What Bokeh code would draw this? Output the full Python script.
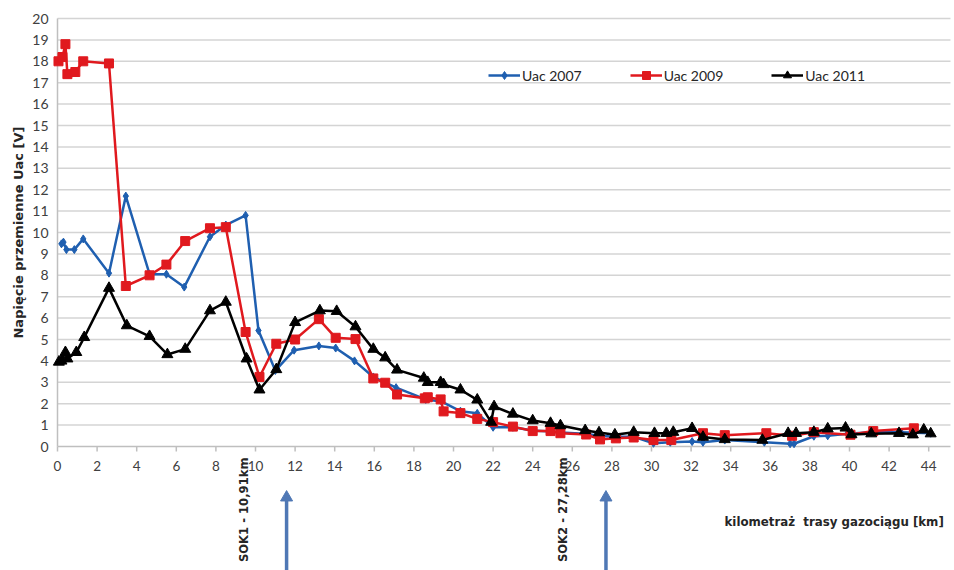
import math
from bokeh.plotting import figure
from bokeh.models import Range1d, Legend
from bokeh.core.properties import value
from bokeh.embed import file_html
from bokeh.resources import INLINE

# ---- data ----
x_2007 = [0.2, 0.3, 0.45, 0.85, 1.3, 2.6, 3.45, 4.65, 5.5, 6.4, 7.7, 8.5, 9.5, 10.15, 11.0, 11.95,
          13.2, 14.05, 15.0, 15.95, 17.1, 18.6, 19.4, 20.35, 21.2, 22.0, 23.0, 24.0, 24.9, 25.4,
          26.6, 27.4, 28.1, 29.1, 30.1, 30.95, 32.05, 32.6, 33.7, 35.7, 37.0, 37.2, 38.2, 38.9,
          39.9, 41.1, 42.6, 44.1]
y_2007 = [9.47, 9.55, 9.2, 9.2, 9.7, 8.1, 11.7, 8.05, 8.05, 7.45, 9.8, 10.35, 10.8, 5.42, 3.55, 4.5,
          4.7, 4.6, 4.0, 3.25, 2.75, 2.2, 2.1, 1.65, 1.55, 0.9, 0.9, 0.75, 0.7, 0.65,
          0.6, 0.5, 0.45, 0.45, 0.15, 0.2, 0.23, 0.2, 0.3, 0.2, 0.13, 0.13, 0.48, 0.5,
          0.6, 0.67, 0.67, 0.62]

x_2009 = [0.05, 0.25, 0.4, 0.5, 0.9, 1.3, 2.6, 3.45, 4.65, 5.5, 6.45, 7.7, 8.5, 9.5, 10.2, 11.05,
          12.0, 13.2, 14.05, 15.05, 15.95, 16.55, 17.15, 18.55, 18.7, 19.35, 19.5, 20.35, 21.2,
          22.0, 23.0, 24.0, 24.9, 25.4, 26.7, 27.4, 28.2, 29.1, 30.1, 31.0, 32.6, 33.7, 35.8,
          37.1, 38.2, 40.05, 41.2, 43.25]
y_2009 = [18.0, 18.2, 18.8, 17.4, 17.5, 18.0, 17.9, 7.5, 8.0, 8.5, 9.6, 10.2, 10.25, 5.35, 3.25, 4.8,
          5.0, 5.95, 5.08, 5.02, 3.18, 2.98, 2.43, 2.25, 2.3, 2.2, 1.64, 1.56, 1.29,
          1.14, 0.93, 0.72, 0.72, 0.62, 0.56, 0.33, 0.38, 0.42, 0.3, 0.3, 0.62, 0.53, 0.62,
          0.5, 0.67, 0.55, 0.72, 0.85]

x_2011 = [0.07, 0.2, 0.4, 0.5, 0.95, 1.35, 2.6, 3.5, 4.65, 5.55, 6.45, 7.7, 8.5, 9.55, 10.2, 11.05,
          12.0, 13.25, 14.1, 15.05, 15.95, 16.55, 17.15, 18.5, 18.7, 19.35, 19.5, 20.35, 21.2,
          21.9, 22.05, 23.0, 24.0, 24.9, 25.4, 26.65, 27.35, 28.15, 29.1, 30.15, 30.75, 31.1,
          32.05, 32.6, 33.7, 35.6, 36.9, 37.3, 38.2, 38.9, 39.8, 40.1, 41.1, 42.5, 43.2, 43.75, 44.1]
y_2011 = [3.95, 4.0, 4.4, 4.1, 4.4, 5.1, 7.4, 5.65, 5.15, 4.3, 4.55, 6.35, 6.75, 4.1, 2.65, 3.6,
          5.8, 6.35, 6.32, 5.6, 4.55, 4.15, 3.58, 3.2, 3.0, 3.0, 2.9, 2.65, 2.18,
          1.14, 1.87, 1.52, 1.21, 1.09, 0.98, 0.75, 0.65, 0.55, 0.67, 0.62, 0.62, 0.67,
          0.85, 0.44, 0.33, 0.3, 0.62, 0.62, 0.67, 0.83, 0.87, 0.56, 0.6, 0.62, 0.55, 0.78, 0.6]

x_ticks = list(range(0, 45, 2))
y_ticks = list(range(0, 21, 1))
x_tick_labels = [str(v) for v in x_ticks]
y_tick_labels = [str(v) for v in y_ticks]

series_names = ["Uac 2007", "Uac 2009", "Uac 2011"]
y_title = "Napięcie przemienne Uac [V]"
x_title = "kilometraż\u00a0 trasy gazociągu [km]"
sok_labels = ["SOK1 - 10,91km", "SOK2 - 27,28km"]
sok_arrow_x = [11.57, 27.7]

# ---- layout (pixels -> data) ----
W, H = 954, 570
X0PX, Y0PX = 57.0, 446.0          # pixel position of data origin
PXX, PXY = 19.8, 21.4            # pixels per data unit
def dx(px):
    return px / PXX
def dy(px):
    return px / PXY
X_MAX = 45.1

FONT = "Lato"
TFONT = "DejaVu Sans"
BLUE = "#1f5fb0"
RED = "#e0191e"
BLACK = "#000000"
ARROW = "#4f78b5"
GRID = "#d4d4d4"
AXIS = "#bfbfbf"
TXT = "#404040"
TITLE = "#262626"

p = figure(width=W, height=H, output_backend="svg", toolbar_location=None,
           x_range=Range1d(-X0PX / PXX, (W - X0PX) / PXX),
           y_range=Range1d(-(H - Y0PX) / PXY, Y0PX / PXY),
           min_border=0)
p.axis.visible = False
p.grid.visible = False
p.outline_line_color = None
p.background_fill_color = "white"

# horizontal grid
p.segment(x0=[0] * len(y_ticks[1:]), y0=y_ticks[1:], x1=[X_MAX] * len(y_ticks[1:]), y1=y_ticks[1:],
          line_color=GRID, line_width=1.5)
# axis lines
p.segment(x0=[0, 0], y0=[0, 0], x1=[X_MAX, 0], y1=[0, y_ticks[-1]], line_color=AXIS, line_width=1.5)
# x tick marks
p.segment(x0=x_ticks, y0=[0] * len(x_ticks), x1=x_ticks, y1=[-dy(5)] * len(x_ticks),
          line_color=AXIS, line_width=1.5)
# tick labels
p.text(x=x_ticks, y=[-dy(19)] * len(x_ticks), text=x_tick_labels, text_align="center",
       text_baseline="middle", text_font=value(FONT), text_font_size=value("13.5px"), text_color=TXT)
p.text(x=[-dx(9)] * len(y_ticks), y=y_ticks, text=y_tick_labels, text_align="right",
       text_baseline="middle", text_font=value(FONT), text_font_size=value("14px"), text_color=TXT)
# y axis title
p.text(x=[-dx(39)], y=[y_ticks[-1] / 2], text=[y_title], angle=math.pi / 2, text_align="center",
       text_baseline="middle", text_font=value(TFONT), text_font_style="bold",
       text_font_size=value("13px"), text_color=TITLE)

# series
l1 = p.line(x_2007, y_2007, line_color=BLUE, line_width=2.5)
s1 = p.scatter(x_2007, y_2007, marker="diamond", size=8, fill_color=BLUE, line_color=BLUE)
l2 = p.line(x_2009, y_2009, line_color=RED, line_width=2.5)
s2 = p.scatter(x_2009, y_2009, marker="square", size=9, fill_color=RED, line_color=RED)
l3 = p.line(x_2011, y_2011, line_color=BLACK, line_width=2.5)
s3 = p.scatter(x_2011, y_2011, marker="triangle", size=11, fill_color=BLACK, line_color=BLACK)

legend = Legend(items=[(series_names[0], [l1, s1]), (series_names[1], [l2, s2]),
                       (series_names[2], [l3, s3])],
                orientation="horizontal", location=(488, H - 85),
                label_text_font=FONT, label_text_font_size="14px", label_text_color=TITLE,
                glyph_width=32, glyph_height=20, label_standoff=2, spacing=48,
                padding=0, margin=0, border_line_color=None, background_fill_alpha=0)
p.add_layout(legend)

# x axis title
p.text(x=[dx(724 - X0PX)], y=[-dy(521 - Y0PX)], text=[x_title], text_align="left",
       text_baseline="middle", text_font=value(TFONT), text_font_style="bold",
       text_font_size=value("11.8px"), text_color=TITLE)

# SOK annotations: vertical labels + arrows
sok_text_x = [a - dx(43) for a in sok_arrow_x]
p.text(x=sok_text_x, y=[-dy(457 - Y0PX)] * 2, text=sok_labels, angle=math.pi / 2,
       text_align="right", text_baseline="middle", text_font=value(TFONT),
       text_font_style="bold", text_font_size=value("11.6px"), text_color=TITLE)
p.segment(x0=sok_arrow_x, y0=[-dy(H + 5 - Y0PX)] * 2, x1=sok_arrow_x, y1=[-dy(500 - Y0PX)] * 2,
          line_color=ARROW, line_width=3.5)
p.scatter(x=sok_arrow_x, y=[-dy(497 - Y0PX)] * 2, marker="triangle", size=12,
          fill_color=ARROW, line_color=ARROW)

open("out.html", "w").write(file_html(p, INLINE))
